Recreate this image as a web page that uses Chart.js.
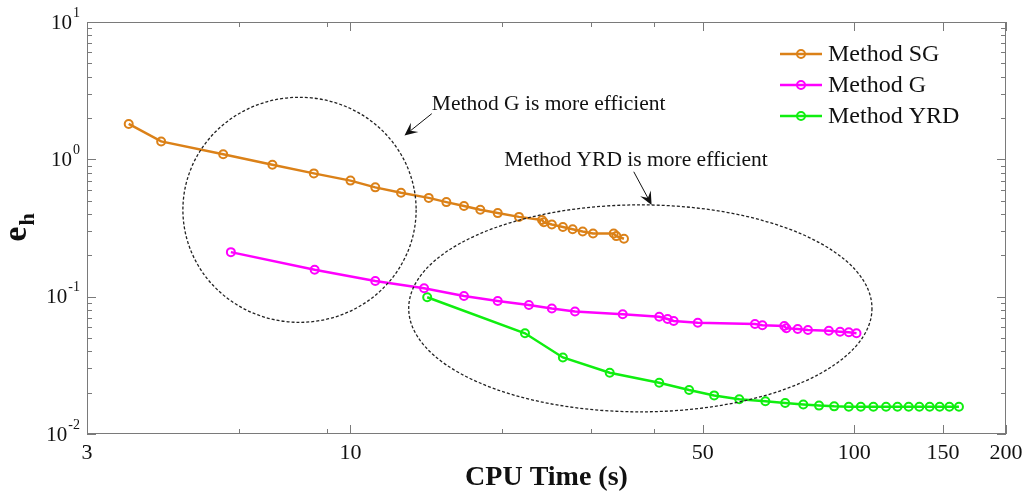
<!DOCTYPE html>
<html>
<head>
<meta charset="utf-8">
<title>CPU time vs error</title>
<script src="https://cdn.jsdelivr.net/npm/chart.js@4.4.1/dist/chart.umd.min.js"></script>
<style>
  html, body { margin: 0; padding: 0; background: #fff; }
  #wrap { width: 1027px; height: 497px; }
</style>
</head>
<body>
<div id="wrap"><canvas id="chart" width="1027" height="497"></canvas></div>
<script>
// CPU time (s) and error e_h for each method
const sgTime = [3.63, 4.21, 5.59, 7.00, 8.46, 10.0, 11.2, 12.6, 14.3, 15.5, 16.8, 18.1, 19.6, 21.6, 24.0, 24.2, 25.1, 26.4, 27.6, 28.9, 30.3, 33.3, 33.7, 34.9];
const sgErr = [1.81, 1.35, 1.09, 0.912, 0.79, 0.70, 0.625, 0.571, 0.524, 0.488, 0.457, 0.43, 0.406, 0.381, 0.362, 0.348, 0.335, 0.322, 0.31, 0.298, 0.288, 0.288, 0.276, 0.264];

const gTime = [5.79, 8.49, 11.2, 14.0, 16.8, 19.6, 22.6, 25.1, 27.9, 34.7, 41.0, 42.6, 43.8, 48.9, 63.5, 65.7, 72.6, 73.3, 77.2, 80.9, 89.0, 93.7, 97.5, 101.0];
const gErr = [0.211, 0.157, 0.130, 0.115, 0.101, 0.093, 0.087, 0.082, 0.078, 0.0744, 0.0715, 0.0688, 0.0665, 0.0646, 0.0632, 0.0619, 0.0611, 0.0588, 0.0581, 0.0572, 0.0565, 0.0556, 0.0550, 0.0541];

const yrdTime = [14.2, 22.2, 26.4, 32.7, 41.0, 47.0, 52.7, 59.1, 66.6, 72.9, 79.2, 85.1, 91.2, 97.5, 103.0, 109.1, 115.6, 121.8, 128.2, 134.6, 141.1, 147.7, 154.4, 161.3];
const yrdErr = [0.099, 0.0541, 0.0361, 0.0279, 0.0236, 0.0209, 0.0191, 0.0179, 0.0173, 0.0168, 0.0164, 0.0161, 0.0159, 0.0158, 0.0158, 0.0158, 0.0158, 0.0158, 0.0158, 0.0158, 0.0158, 0.0158, 0.0158, 0.0158];

const seriesNames = ['Method SG', 'Method G', 'Method YRD'];
const seriesColors = ['#DB8118', '#FF00FF', '#10EE10'];

// axis ticks
const xTickLabels = [3, 10, 50, 100, 150, 200];
const xMinorTicks = [6, 9, 20, 30, 40];
const yDecades = [-2, -1, 0, 1];

// annotation regions, in data units: [xMin, xMax, yMin, yMax]
const regionG = [4.65, 13.5, 0.065, 2.83];
const regionYRD = [13.05, 108.4, 0.0145, 0.466];
// notes: text anchor (left, baseline) and arrow tail -> head
const noteG = { text: 'Method G is more efficient', at: [14.5, 2.30], from: [14.5, 2.15], to: [12.8, 1.49] };
const noteYRD = { text: 'Method YRD is more efficient', at: [20.2, 0.898], from: [36.5, 0.812], to: [39.6, 0.466] };

const SERIF = '"Liberation Serif", "Times New Roman", serif';
const AXIS_GRAY = '#7a7a7a';

function toPoints(xs, ys) {
  return xs.map((x, i) => ({ x: x, y: ys[i] }));
}

function makeDataset(name, color, xs, ys) {
  return {
    label: name,
    data: toPoints(xs, ys),
    showLine: true,
    borderColor: color,
    borderWidth: 2.5,
    pointRadius: 4,
    pointBorderWidth: 2,
    pointBorderColor: color,
    pointBackgroundColor: 'rgba(0,0,0,0)',
    tension: 0
  };
}

function drawArrow(ctx, x1, y1, x2, y2) {
  const ang = Math.atan2(y2 - y1, x2 - x1);
  const len = 13, half = 6;
  const c = Math.cos(ang), s = Math.sin(ang);
  ctx.beginPath();
  ctx.moveTo(x1, y1);
  ctx.lineTo(x2 - c * len * 0.6, y2 - s * len * 0.6);
  ctx.stroke();
  ctx.beginPath();
  ctx.moveTo(x2, y2);
  ctx.lineTo(x2 - c * len - s * half, y2 - s * len + c * half);
  ctx.lineTo(x2 - c * len * 0.6, y2 - s * len * 0.6);
  ctx.lineTo(x2 - c * len + s * half, y2 - s * len - c * half);
  ctx.closePath();
  ctx.fill();
}

// box, inward ticks, tick labels and axis titles
const axesPlugin = {
  id: 'matlabAxes',
  afterDatasetsDraw(chart) {
    const ctx = chart.ctx;
    const a = chart.chartArea;
    const xs = chart.scales.x, ys = chart.scales.y;
    ctx.save();
    ctx.strokeStyle = AXIS_GRAY;
    ctx.lineWidth = 1;
    ctx.strokeRect(a.left + 0.5, a.top + 0.5, a.right - a.left - 1, a.bottom - a.top - 1);

    const vTick = (v, len) => {
      const px = Math.round(xs.getPixelForValue(v)) + 0.5;
      ctx.beginPath();
      ctx.moveTo(px, a.bottom); ctx.lineTo(px, a.bottom - len);
      ctx.moveTo(px, a.top); ctx.lineTo(px, a.top + len);
      ctx.stroke();
    };
    const hTick = (v, len) => {
      const py = Math.round(ys.getPixelForValue(v)) + 0.5;
      ctx.beginPath();
      ctx.moveTo(a.left, py); ctx.lineTo(a.left + len, py);
      ctx.moveTo(a.right, py); ctx.lineTo(a.right - len, py);
      ctx.stroke();
    };
    xTickLabels.forEach(v => vTick(v, 9));
    xMinorTicks.forEach(v => vTick(v, 5));
    yDecades.forEach(d => {
      hTick(Math.pow(10, d), 9);
      if (d < yDecades[yDecades.length - 1]) {
        for (let m = 2; m <= 9; m++) hTick(m * Math.pow(10, d), 5);
      }
    });

    // x tick labels
    ctx.fillStyle = '#111';
    ctx.font = '22px ' + SERIF;
    ctx.textAlign = 'center';
    ctx.textBaseline = 'top';
    xTickLabels.forEach(v => {
      ctx.fillText(String(v), xs.getPixelForValue(v), a.bottom + 8);
    });

    // y tick labels as 10^d
    yDecades.forEach(d => {
      const py = ys.getPixelForValue(Math.pow(10, d));
      const exp = String(d);
      ctx.font = '14px ' + SERIF;
      const we = ctx.measureText(exp).width;
      ctx.font = '21px ' + SERIF;
      const wb = ctx.measureText('10').width;
      const right = a.left - 7;
      ctx.textAlign = 'left';
      ctx.textBaseline = 'middle';
      ctx.fillText('10', right - we - wb - 1, py + 1);
      ctx.font = '14px ' + SERIF;
      ctx.fillText(exp, right - we, py - 9);
    });

    // x title
    ctx.font = 'bold 28px ' + SERIF;
    ctx.textAlign = 'center';
    ctx.textBaseline = 'middle';
    ctx.fillText('CPU Time (s)', (a.left + a.right) / 2, 478);

    // y title e_h
    ctx.save();
    ctx.translate(26, (a.top + a.bottom) / 2);
    ctx.rotate(-Math.PI / 2);
    ctx.textBaseline = 'alphabetic';
    ctx.textAlign = 'left';
    ctx.font = 'bold 34px ' + SERIF;
    const wE = ctx.measureText('e').width;
    ctx.font = 'bold 22px ' + SERIF;
    const wH = ctx.measureText('h').width;
    const x0 = -(wE + wH) / 2;
    ctx.font = 'bold 34px ' + SERIF;
    ctx.fillText('e', x0, 0);
    ctx.font = 'bold 22px ' + SERIF;
    ctx.fillText('h', x0 + wE + 1, 8);
    ctx.restore();

    ctx.restore();
  }
};

// dashed regions, notes with arrows, and the legend
const notesPlugin = {
  id: 'notes',
  afterDatasetsDraw(chart) {
    const ctx = chart.ctx;
    const xs = chart.scales.x, ys = chart.scales.y;
    const px = v => xs.getPixelForValue(v);
    const py = v => ys.getPixelForValue(v);
    ctx.save();

    ctx.strokeStyle = '#222';
    ctx.lineWidth = 1.3;
    ctx.setLineDash([3, 2]);
    [regionG, regionYRD].forEach(r => {
      const l = px(r[0]), rt = px(r[1]), b = py(r[2]), t = py(r[3]);
      ctx.beginPath();
      ctx.ellipse((l + rt) / 2, (t + b) / 2, (rt - l) / 2, (b - t) / 2, 0, 0, Math.PI * 2);
      ctx.stroke();
    });
    ctx.setLineDash([]);

    ctx.fillStyle = '#111';
    ctx.strokeStyle = '#111';
    ctx.lineWidth = 1;
    ctx.font = '21.5px ' + SERIF;
    ctx.textAlign = 'left';
    ctx.textBaseline = 'alphabetic';
    [noteG, noteYRD].forEach(n => {
      ctx.fillText(n.text, px(n.at[0]), py(n.at[1]));
      drawArrow(ctx, px(n.from[0]), py(n.from[1]), px(n.to[0]), py(n.to[1]));
    });

    // legend, inside the upper right corner
    const a = chart.chartArea;
    const lineL = a.right - 226, lineR = a.right - 184, textX = a.right - 178;
    chart.data.datasets.forEach((ds, i) => {
      const y = a.top + 32 + i * 31;
      ctx.strokeStyle = ds.borderColor;
      ctx.lineWidth = 2.5;
      ctx.beginPath();
      ctx.moveTo(lineL, y); ctx.lineTo(lineR, y);
      ctx.stroke();
      ctx.lineWidth = 2;
      ctx.beginPath();
      ctx.arc((lineL + lineR) / 2, y, 4, 0, Math.PI * 2);
      ctx.stroke();
      ctx.fillStyle = '#111';
      ctx.font = '24px ' + SERIF;
      ctx.textBaseline = 'middle';
      ctx.fillText(ds.label, textX, y + 1);
    });

    ctx.restore();
  }
};

new Chart(document.getElementById('chart'), {
  type: 'scatter',
  data: {
    datasets: [
      makeDataset(seriesNames[0], seriesColors[0], sgTime, sgErr),
      makeDataset(seriesNames[1], seriesColors[1], gTime, gErr),
      makeDataset(seriesNames[2], seriesColors[2], yrdTime, yrdErr)
    ]
  },
  options: {
    responsive: false,
    animation: false,
    devicePixelRatio: 1,
    events: [],
    layout: { padding: { left: 87, top: 22, right: 21, bottom: 63 } },
    plugins: { legend: { display: false }, tooltip: { enabled: false } },
    scales: {
      x: { type: 'logarithmic', min: 3, max: 200, display: false },
      y: { type: 'logarithmic', min: 0.01, max: 10, display: false }
    }
  },
  plugins: [axesPlugin, notesPlugin]
});
</script>
</body>
</html>
